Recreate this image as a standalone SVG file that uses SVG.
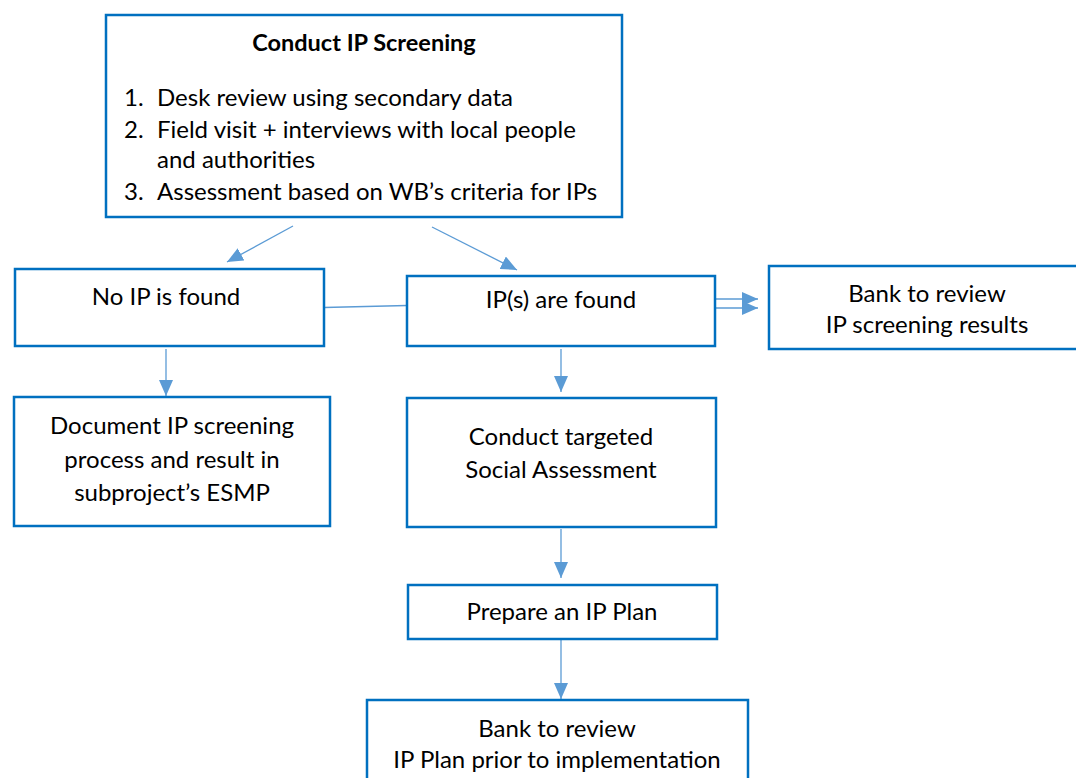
<svg xmlns="http://www.w3.org/2000/svg" width="1076" height="778" viewBox="0 0 1076 778">
<style>
.box{fill:#fff;stroke:#0070C0;stroke-width:2.5}
.t{font-family:Lato,"Liberation Sans",sans-serif;font-size:24px;fill:#000;text-anchor:middle}
.l{font-family:Lato,"Liberation Sans",sans-serif;font-size:24px;fill:#000}
.b{font-weight:bold;font-size:23.5px}
.c{stroke:#5B9BD5;stroke-width:1.3;fill:none}
</style>
<defs>
<marker id="ah" markerWidth="16" markerHeight="14" refX="16" refY="7" orient="auto" markerUnits="userSpaceOnUse">
<path d="M0,0 L16,7 L0,14 Z" fill="#5B9BD5"/>
</marker>
</defs>
<rect width="1076" height="778" fill="#fff"/>
<g id="connectors">
<line class="c" x1="293" y1="226" x2="227" y2="262" marker-end="url(#ah)"/>
<line class="c" x1="432" y1="227" x2="517" y2="270" marker-end="url(#ah)"/>
<line class="c" x1="324" y1="307.5" x2="407" y2="305.5"/>
<line class="c" x1="716" y1="299" x2="758" y2="299" marker-end="url(#ah)"/>
<line class="c" x1="716" y1="308" x2="758" y2="308" marker-end="url(#ah)"/>
<line class="c" x1="166" y1="349" x2="166" y2="396" marker-end="url(#ah)"/>
<line class="c" x1="561" y1="349" x2="561" y2="392" marker-end="url(#ah)"/>
<line class="c" x1="561" y1="529" x2="561" y2="578" marker-end="url(#ah)"/>
<line class="c" x1="561" y1="640" x2="561" y2="699" marker-end="url(#ah)"/>
</g>
<g id="screening">
<rect class="box" x="106" y="15" width="516" height="202"/>
<text class="t b" x="364" y="51">Conduct IP Screening</text>
<text class="l" x="124" y="106">1.</text><text class="l" x="157" y="106">Desk review using secondary data</text>
<text class="l" x="124" y="138">2.</text><text class="l" x="157" y="138">Field visit + interviews with local people</text>
<text class="l" x="157" y="168">and authorities</text>
<text class="l" x="124" y="200">3.</text><text class="l" x="157" y="200">Assessment based on WB’s criteria for IPs</text>
</g>
<g id="no-ip">
<rect class="box" x="15" y="269" width="309" height="77"/>
<text class="t" x="166" y="305">No IP is found</text>
</g>
<g id="ip-found">
<rect class="box" x="407" y="276" width="308" height="70"/>
<text class="t" x="561" y="308">IP(s) are found</text>
</g>
<g id="bank-screening">
<rect class="box" x="769" y="266" width="310" height="83"/>
<text class="t" x="927" y="302">Bank to review</text>
<text class="t" x="927" y="333">IP screening results</text>
</g>
<g id="document">
<rect class="box" x="14" y="397" width="316" height="129"/>
<text class="t" x="172" y="434">Document IP screening</text>
<text class="t" x="172" y="468">process and result in</text>
<text class="t" x="172" y="501">subproject’s ESMP</text>
</g>
<g id="social">
<rect class="box" x="407" y="398" width="309" height="129"/>
<text class="t" x="561" y="445">Conduct targeted</text>
<text class="t" x="561" y="478">Social Assessment</text>
</g>
<g id="prepare">
<rect class="box" x="408" y="585" width="309" height="54"/>
<text class="t" x="562" y="620">Prepare an IP Plan</text>
</g>
<g id="bank-plan">
<rect class="box" x="367" y="700" width="381" height="90"/>
<text class="t" x="557" y="737">Bank to review</text>
<text class="t" x="557" y="768">IP Plan prior to implementation</text>
</g>
</svg>
